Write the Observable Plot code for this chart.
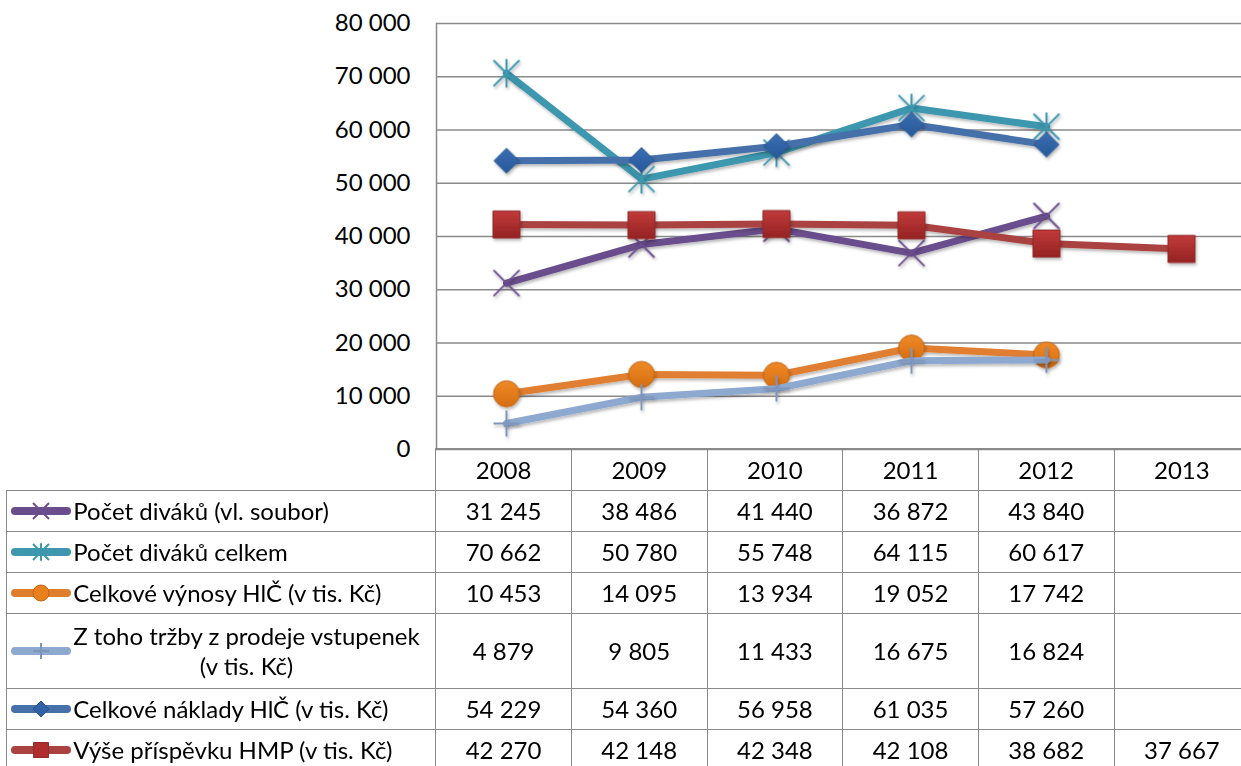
<!DOCTYPE html>
<html><head><meta charset="utf-8">
<script src="https://cdn.jsdelivr.net/npm/d3@7"></script>
<script src="https://cdn.jsdelivr.net/npm/@observablehq/plot@0.6"></script>
<style>
html,body{margin:0;padding:0;background:#fff;overflow:hidden;}
#wrap{position:relative;width:1241px;height:766px;overflow:hidden;font-family:Lato,"Open Sans",sans-serif;color:#000;}
#wrap svg.plotsvg{position:absolute;left:0;top:0;max-width:none;}
table.dt{position:absolute;border-collapse:collapse;table-layout:fixed;font-size:24px;}
table.dt td{border:1.5px solid #8a8a8a;padding:0;text-align:center;vertical-align:middle;line-height:30px;white-space:nowrap;}
table.dt td.blank{border-top:none;border-left:none;}
table.dt td.lab{text-align:left;}
table.dt td.lab .in{display:flex;align-items:center;}
table.dt td.lab .txt{display:inline-block;text-align:center;white-space:pre-line;}
</style></head>
<body><div id="wrap"></div>
<script>
// ---- data ----
const years = ["2008", "2009", "2010", "2011", "2012", "2013"];
const seriesNames = [
  "Počet diváků (vl. soubor)",
  "Počet diváků celkem",
  "Celkové výnosy HlČ (v tis. Kč)",
  "Z toho tržby z prodeje vstupenek\n(v tis. Kč)",
  "Celkové náklady HlČ (v tis. Kč)",
  "Výše příspěvku HMP (v tis. Kč)"
];
const pocetDivakuVl = [31245, 38486, 41440, 36872, 43840, null];
const pocetDivakuCelkem = [70662, 50780, 55748, 64115, 60617, null];
const celkoveVynosy = [10453, 14095, 13934, 19052, 17742, null];
const trzbyVstupenky = [4879, 9805, 11433, 16675, 16824, null];
const celkoveNaklady = [54229, 54360, 56958, 61035, 57260, null];
const prispevekHMP = [42270, 42148, 42348, 42108, 38682, 37667];
const yTicks = [0, 10000, 20000, 30000, 40000, 50000, 60000, 70000, 80000];

const seriesValues = [pocetDivakuVl, pocetDivakuCelkem, celkoveVynosy, trzbyVstupenky, celkoveNaklady, prispevekHMP];

// ---- marker symbols (Excel-like) ----
const symX = {draw(c, s){const r = Math.sqrt(s/Math.PI); c.moveTo(-r,-r); c.lineTo(r,r); c.moveTo(-r,r); c.lineTo(r,-r);}};
const symStar = {draw(c, s){const r = Math.sqrt(s/Math.PI); c.moveTo(-r,-r); c.lineTo(r,r); c.moveTo(-r,r); c.lineTo(r,-r); c.moveTo(0,-r*1.1); c.lineTo(0,r*1.1);}};
const symPlus = {draw(c, s){const r = Math.sqrt(s/Math.PI); c.moveTo(-r,0); c.lineTo(r,0); c.moveTo(0,-r); c.lineTo(0,r);}};
const symDiamond = {draw(c, s){const r = Math.sqrt(s/Math.PI); c.moveTo(0,-r); c.lineTo(r,0); c.lineTo(0,r); c.lineTo(-r,0); c.closePath();}};
const symSquare = {draw(c, s){const r = Math.sqrt(s/Math.PI); c.rect(-r,-r,2*r,2*r);}};
const symCircle = {draw(c, s){const r = Math.sqrt(s/Math.PI); c.moveTo(r,0); c.arc(0,0,r,0,2*Math.PI); c.closePath();}};

const styles = [
  {line:"#6a4d8c", symbol:symX, r:13, fill:"none", stroke:"#6a4d8c", sw:2, keyR:8},
  {line:"#3d97ae", symbol:symStar, r:13, fill:"none", stroke:"#3d97ae", sw:2, keyR:8},
  {line:"#e07e30", symbol:symCircle, r:13, fill:"url(#gCirc)", stroke:"#c0661a", sw:1, keyR:8, keyFill:"#e8801e"},
  {line:"#8ea9d0", symbol:symPlus, r:13, fill:"none", stroke:"#7d95bd", sw:2, keyR:8},
  {line:"#4570aa", symbol:symDiamond, r:12.5, fill:"url(#gDia)", stroke:"#2a5590", sw:1, keyR:8, keyFill:"#2f63a5"},
  {line:"#aa4242", symbol:symSquare, r:13.5, fill:"url(#gSq)", stroke:"#8f2a2a", sw:1, keyR:7.5, keyFill:"#b02d2d"}
];

const rows = seriesNames.flatMap((name, i) => years.map((year, j) => ({series: name, year, value: seriesValues[i][j]})));

const fmt = d3.formatLocale({decimal: ",", thousands: " ", grouping: [3], currency: ["", ""]}).format(",d");

const marks = [Plot.ruleY(yTicks, {stroke: "#8a8a8a", strokeWidth: 1.5})];
seriesNames.forEach((name, i) => {
  const st = styles[i];
  const d = rows.filter(r => r.series === name && r.value != null);
  marks.push(Plot.line(d, {x: "year", y: "value", stroke: st.line, strokeWidth: 7, strokeLinejoin: "round", strokeLinecap: "round"}));
  marks.push(Plot.dot(d, {x: "year", y: "value", symbol: st.symbol, r: st.r, fill: st.fill, stroke: st.stroke, strokeWidth: st.sw}));
});
marks.push(Plot.frame({anchor: "left", stroke: "#8a8a8a", strokeWidth: 1.5}));

const chart = Plot.plot({
  width: 1250, height: 491,
  marginLeft: 436, marginRight: 0, marginTop: 23, marginBottom: 42,
  style: {fontFamily: "Lato, 'Open Sans', sans-serif", fontSize: "24px", color: "#000", background: "transparent", overflow: "visible", maxWidth: "none"},
  x: {type: "point", domain: years, padding: 0.5, axis: null},
  y: {domain: [0, 80000], ticks: yTicks, tickFormat: fmt, tickSize: 0, tickPadding: 26, label: null},
  marks
});
chart.classList.add("plotsvg");
const wrap = document.getElementById("wrap");
wrap.appendChild(chart);

// soft shadows and gradients like Excel
const svg = d3.select(chart);
const defs = svg.insert("defs", ":first-child");
const f = defs.append("filter").attr("id", "sh").attr("x", "-50%").attr("y", "-50%").attr("width", "200%").attr("height", "200%");
f.append("feDropShadow").attr("dx", 1.2).attr("dy", 2.2).attr("stdDeviation", 1.6).attr("flood-color", "#000").attr("flood-opacity", 0.28);
function grad(id, c1, c2) {
  const g = defs.append("linearGradient").attr("id", id).attr("x1", 0).attr("y1", 0).attr("x2", 0).attr("y2", 1);
  g.append("stop").attr("offset", "0%").attr("stop-color", c1);
  g.append("stop").attr("offset", "100%").attr("stop-color", c2);
}
grad("gSq", "#c23a3a", "#952323");
grad("gCirc", "#f08a26", "#d56d12");
grad("gDia", "#3a6fb3", "#27589a");
svg.selectAll('g[aria-label="line"], g[aria-label="dot"]').attr("filter", "url(#sh)");

// ---- data table (columns from the x scale) ----
const xs = chart.scale("x");
const x0 = Math.min(...xs.range), x1 = Math.max(...xs.range);
const colW = (x1 - x0) / years.length;
const tableLeft = 7;
const yTop = chart.scale("y").apply(0);

const table = d3.select(wrap).append("table").attr("class", "dt")
  .style("left", (tableLeft - 0.75) + "px").style("top", (yTop - 0.75) + "px")
  .style("width", (x1 - tableLeft) + "px");
const cg = table.append("colgroup");
cg.append("col").style("width", (x0 - tableLeft) + "px");
years.forEach(() => cg.append("col").style("width", colW + "px"));
const hr = table.append("tr").style("height", "42px");
hr.append("td").attr("class", "blank");
years.forEach(y => hr.append("td").text(y));
seriesNames.forEach((name, i) => {
  const st = styles[i];
  const tr = table.append("tr").style("height", "41px");
  const td = tr.append("td").attr("class", "lab");
  const inn = td.append("div").attr("class", "in");
  const k = inn.append("svg").attr("width", 66).attr("height", 24).style("flex", "none");
  k.append("line").attr("x1", 8).attr("x2", 60).attr("y1", 12).attr("y2", 12)
    .attr("stroke", st.line).attr("stroke-width", 8).attr("stroke-linecap", "round");
  k.append("path").attr("transform", "translate(34,12)")
    .attr("d", d3.symbol().type(st.symbol).size(st.keyR * st.keyR * Math.PI)())
    .attr("fill", st.keyFill || st.fill).attr("stroke", st.stroke).attr("stroke-width", st.sw);
  inn.append("span").attr("class", "txt").text(name)
    .style("padding", name.includes("\n") ? "7px 0" : "0");
  seriesValues[i].forEach(v => tr.append("td").text(v == null ? "" : fmt(v)));
});
</script>
</body></html>
